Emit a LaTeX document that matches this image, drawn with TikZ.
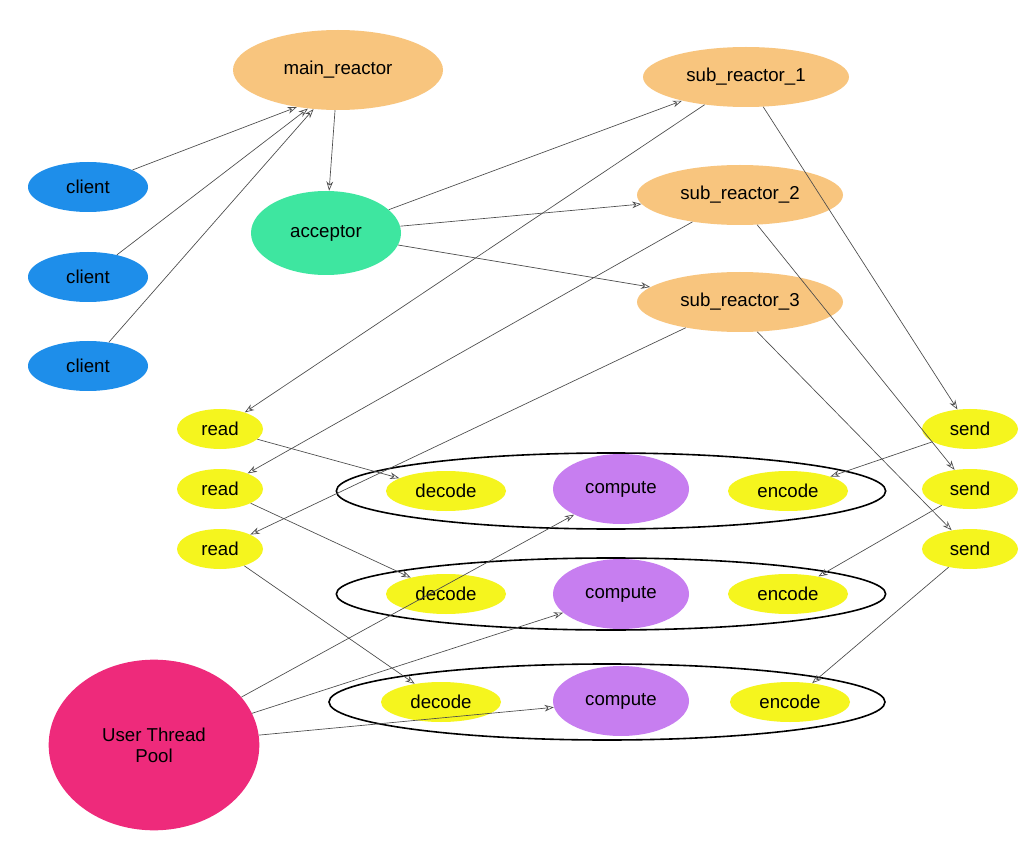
\documentclass[tikz,border=0pt]{standalone}
\usepackage{fontspec}
\setmainfont{Liberation Sans}
\usetikzlibrary{arrows.meta,shapes.geometric}
\definecolor{org}{HTML}{F8C57E}
\definecolor{blu}{HTML}{1E8EEA}
\definecolor{grn}{HTML}{3EE6A0}
\definecolor{yel}{HTML}{F5F51E}
\definecolor{pur}{HTML}{C77EF0}
\definecolor{pnk}{HTML}{EE2A7B}
\begin{document}
\begin{tikzpicture}[x=0.75pt,y=-0.75pt,
  e/.style={ellipse,inner sep=0pt,font=\fontsize{14}{16}\selectfont},
  ln/.style={draw=black!70,line width=0.5pt,-{Stealth[length=7pt,width=5pt,open]}}]
\useasboundingbox[fill=white] (0,0) rectangle (1036,852);
\newcommand{\el}[6]{\node[e,fill=#4,minimum width=#5*0.75pt*2,minimum height=#6*0.75pt*2] (#1) at #2 {#3};}
% big rings
\node[ellipse,draw=black,line width=1.2pt,fill=white,minimum width=412pt,minimum height=57pt] (r1) at (611,491) {};
\node[ellipse,draw=black,line width=1.2pt,fill=white,minimum width=412pt,minimum height=54pt] (r2) at (611,594) {};
\node[ellipse,draw=black,line width=1.2pt,fill=white,minimum width=417pt,minimum height=57pt] (r3) at (607,702) {};
\el{mr}{(338,70)}{main\_reactor}{org}{105}{40}
\el{c1}{(88,187)}{client}{blu}{60}{25}
\el{c2}{(88,277)}{client}{blu}{60}{25}
\el{c3}{(88,366)}{client}{blu}{60}{25}
\el{ac}{(326,233)}{acceptor}{grn}{75}{42}
\el{s1}{(746,77)}{sub\_reactor\_1}{org}{103}{30}
\el{s2}{(740,195)}{sub\_reactor\_2}{org}{103}{30}
\el{s3}{(740,302)}{sub\_reactor\_3}{org}{103}{30}
\el{rd1}{(220,429)}{read}{yel}{43}{20}
\el{rd2}{(220,489)}{read}{yel}{43}{20}
\el{rd3}{(220,549)}{read}{yel}{43}{20}
\el{sd1}{(970,429)}{send}{yel}{48}{20}
\el{sd2}{(970,489)}{send}{yel}{48}{20}
\el{sd3}{(970,549)}{send}{yel}{48}{20}
\el{d1}{(446,491)}{decode}{yel}{60}{20}
\el{d2}{(446,594)}{decode}{yel}{60}{20}
\el{d3}{(441,702)}{decode}{yel}{60}{20}
\el{cp1}{(621,489)}{compute}{pur}{68}{35}
\el{cp2}{(621,594)}{compute}{pur}{68}{35}
\el{cp3}{(621,701)}{compute}{pur}{68}{35}
\el{en1}{(788,491)}{encode}{yel}{60}{20}
\el{en2}{(788,594)}{encode}{yel}{60}{20}
\el{en3}{(790,702)}{encode}{yel}{60}{20}
\node[e,fill=pnk,minimum width=158pt,minimum height=128pt,align=center] (tp) at (154,745) {User Thread\\Pool};
% edges
\draw[ln] (c1) -- (mr.222);
\draw[ln] (c2) -- (mr.232);
\draw[ln] (c3) -- (mr.238);
\draw[ln] (mr) -- (ac);
\draw[ln] (ac) -- (s1);
\draw[ln] (ac) -- (s2);
\draw[ln] (ac) -- (s3);
\draw[ln] (s1) -- (rd1);
\draw[ln] (s2) -- (rd2);
\draw[ln] (s3) -- (rd3);
\draw[ln] (s1.-60) -- (sd1);
\draw[ln] (s2.-60) -- (sd2);
\draw[ln] (s3.-60) -- (sd3);
\draw[ln] (rd1) -- (d1);
\draw[ln] (rd2) -- (d2);
\draw[ln] (rd3) -- (d3);
\draw[ln] (sd1) -- (en1);
\draw[ln] (sd2) -- (en2);
\draw[ln] (sd3) -- (en3);
\draw[ln] (tp) -- (cp1);
\draw[ln] (tp) -- (cp2);
\draw[ln] (tp) -- (cp3);
\end{tikzpicture}
\end{document}
